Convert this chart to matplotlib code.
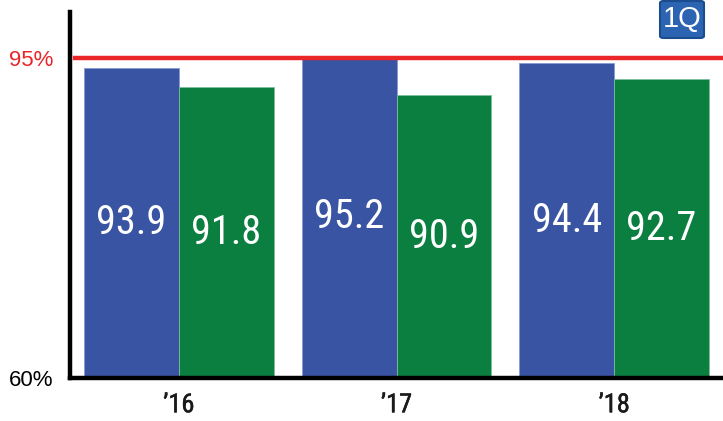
import matplotlib
matplotlib.use("Agg")
import matplotlib.pyplot as plt
import matplotlib.patheffects as pe
from matplotlib.patches import FancyBboxPatch

years = ["\u201916", "\u201917", "\u201918"]
series_a = [93.9, 95.2, 94.4]
series_b = [91.8, 90.9, 92.7]
target = 95
y_min, y_max = 60, 100
ytick_labels = ["60%", "95%"]

blue = "#3a54a4"
green = "#0b7f40"
red = "#ea2629"
cond = ["Roboto Condensed", "DejaVu Sans"]

fig = plt.figure(figsize=(7.23, 4.21), dpi=100)
ax = fig.add_axes([70 / 723, 1 - 378 / 421, 653 / 723, 366 / 421])

x = list(range(len(years)))
w = 0.436
ax.bar([i - w / 2 for i in x], [v - y_min for v in series_a], w, bottom=y_min,
       color=blue, edgecolor="#8a9ad0", linewidth=0.6, zorder=2)
ax.bar([i + w / 2 for i in x], [v - y_min for v in series_b], w, bottom=y_min,
       color=green, edgecolor="#7fbf9a", linewidth=0.6, zorder=2)

# value labels sit halfway up each bar
for i in x:
    for off, v in ((-w / 2, series_a[i]), (w / 2, series_b[i])):
        ax.text(i + off, (v + y_min) / 2, f"{v:.1f}", color="white",
                ha="center", va="center", fontsize=29,
                family=cond, zorder=4)

ax.axhline(target, xmin=5 / 653, xmax=1, color=red, linewidth=3.2, zorder=3)

ax.set_xlim(-0.5, 2.5)
ax.set_ylim(y_min, y_max)
ax.set_yticks([y_min, target])
ax.set_yticklabels(ytick_labels, fontsize=16, family="Liberation Sans")
ax.get_yticklabels()[1].set_color(red)
ax.tick_params(axis="y", length=0, pad=12)
ax.set_xticks(x)
ax.set_xticklabels(years, fontsize=19, family=cond, fontweight="normal",
                   color="#1a1a1a")
for lab in ax.get_xticklabels():
    lab.set_path_effects([pe.withStroke(linewidth=0.35, foreground="#1a1a1a")])
ax.tick_params(axis="x", length=0, pad=11)

for s in ("top", "right"):
    ax.spines[s].set_visible(False)
for s in ("left", "bottom"):
    ax.spines[s].set_linewidth(3.2)
    ax.spines[s].set_color("black")

badge = FancyBboxPatch((660 / 723, 1 - 38 / 421), 44 / 723, 37 / 421,
                       boxstyle="round,pad=0,rounding_size=0.005",
                       transform=fig.transFigure, facecolor="#2c64b2",
                       edgecolor="#1b4d8e", linewidth=1.5)
fig.patches.append(badge)
fig.text(682 / 723, 1 - 19 / 421, "1Q", color="white", fontsize=21,
         family="Liberation Sans", ha="center", va="center")

fig.savefig("out.png", dpi=100)
